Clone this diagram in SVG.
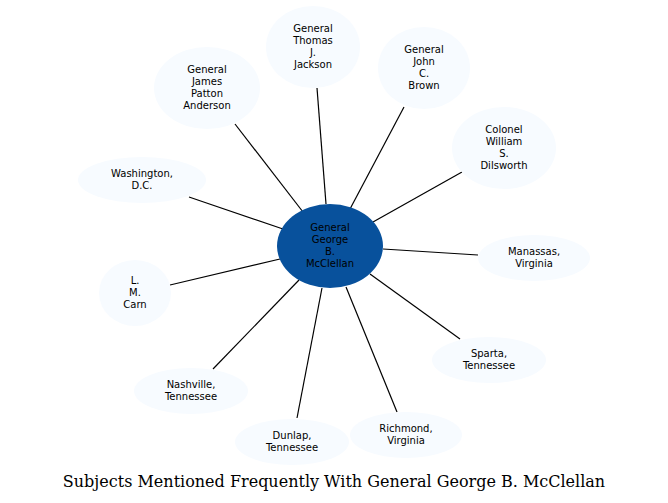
<svg xmlns="http://www.w3.org/2000/svg" width="668" height="503" viewBox="0 0 668 503">
<style>
.n{fill:#f7fbff;stroke:none}
.c{fill:#08519c;stroke:none}
text{font-family:"DejaVu Sans",sans-serif;font-size:10px;text-anchor:middle;fill:#000}
.t{font-family:"DejaVu Serif",serif;font-size:16px}
#edges line{stroke:#000;stroke-width:1.2}
</style>
<rect width="668" height="503" fill="#fff"/>
<g id="edges">
<line x1="326" y1="204" x2="317" y2="88"/>
<line x1="350" y1="209" x2="404" y2="107"/>
<line x1="303" y1="212" x2="235" y2="124"/>
<line x1="373" y1="222" x2="462" y2="172"/>
<line x1="283" y1="229" x2="189" y2="197"/>
<line x1="383" y1="249" x2="478" y2="255"/>
<line x1="280" y1="259" x2="170" y2="285"/>
<line x1="370" y1="274" x2="460" y2="339"/>
<line x1="299" y1="280" x2="213" y2="369"/>
<line x1="346" y1="287" x2="397" y2="412"/>
<line x1="322" y1="288" x2="297" y2="418"/>
</g>
<g id="center"><ellipse class="c" cx="330" cy="246" rx="53" ry="42"/><text x="330" y="231">General</text><text x="330" y="243">George</text><text x="330" y="255">B.</text><text x="330" y="267">McClellan</text></g>
<g id="jackson"><ellipse class="n" cx="313" cy="47" rx="47" ry="41"/><text x="313" y="32">General</text><text x="313" y="44">Thomas</text><text x="313" y="56">J.</text><text x="313" y="68">Jackson</text></g>
<g id="brown"><ellipse class="n" cx="424" cy="68" rx="46" ry="41"/><text x="424" y="53">General</text><text x="424" y="65">John</text><text x="424" y="77">C.</text><text x="424" y="89">Brown</text></g>
<g id="anderson"><ellipse class="n" cx="207" cy="88" rx="53" ry="41"/><text x="207" y="73">General</text><text x="207" y="85">James</text><text x="207" y="97">Patton</text><text x="207" y="109">Anderson</text></g>
<g id="dilsworth"><ellipse class="n" cx="504" cy="148" rx="52" ry="41"/><text x="504" y="133">Colonel</text><text x="504" y="145">William</text><text x="504" y="157">S.</text><text x="504" y="169">Dilsworth</text></g>
<g id="washington"><ellipse class="n" cx="142" cy="180" rx="64" ry="23"/><text x="142" y="177">Washington,</text><text x="142" y="189">D.C.</text></g>
<g id="manassas"><ellipse class="n" cx="534" cy="258" rx="56" ry="23"/><text x="534" y="255">Manassas,</text><text x="534" y="267">Virginia</text></g>
<g id="carn"><ellipse class="n" cx="135" cy="293" rx="36" ry="33"/><text x="135" y="284">L.</text><text x="135" y="296">M.</text><text x="135" y="308">Carn</text></g>
<g id="sparta"><ellipse class="n" cx="489" cy="360" rx="57" ry="23"/><text x="489" y="357">Sparta,</text><text x="489" y="369">Tennessee</text></g>
<g id="nashville"><ellipse class="n" cx="191" cy="391" rx="57" ry="23"/><text x="191" y="388">Nashville,</text><text x="191" y="400">Tennessee</text></g>
<g id="richmond"><ellipse class="n" cx="406" cy="435" rx="56" ry="23"/><text x="406" y="432">Richmond,</text><text x="406" y="444">Virginia</text></g>
<g id="dunlap"><ellipse class="n" cx="292" cy="442" rx="57" ry="23"/><text x="292" y="439">Dunlap,</text><text x="292" y="451">Tennessee</text></g>
<text class="t" x="334" y="487">Subjects Mentioned Frequently With General George B. McClellan</text>
</svg>
